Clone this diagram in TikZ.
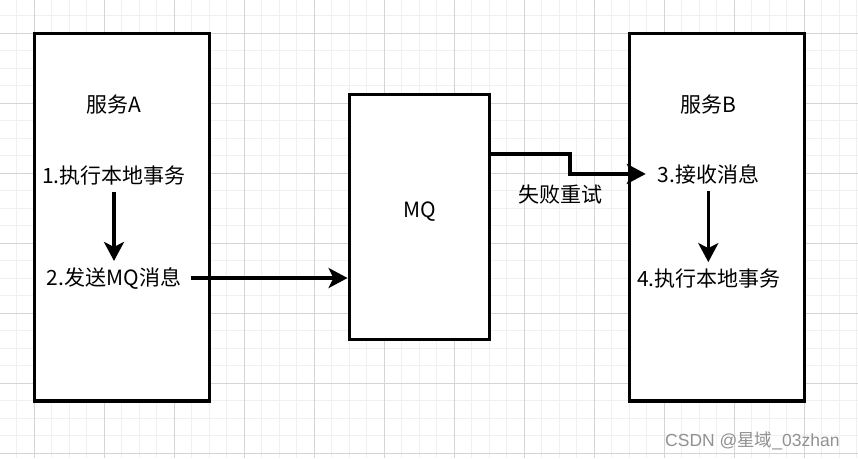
\documentclass[tikz,border=0pt]{standalone}
\usepackage{fontspec}
\setmainfont{Noto Sans CJK SC}
\newfontfamily\wmlat{Liberation Sans}
\usetikzlibrary{arrows.meta}
\definecolor{gminor}{RGB}{240,240,240}
\definecolor{gmajor}{RGB}{212,212,212}
\definecolor{wm}{RGB}{145,145,145}
\begin{document}
\begin{tikzpicture}[x=1pt,y=-1pt,
  box/.style={draw=black,fill=white,line width=3.5pt,rectangle,inner sep=0pt},
  lbl/.style={font=\fontsize{21}{25}\selectfont,inner sep=0pt,anchor=base},
  arr/.style={line width=3.5pt,-{Stealth[length=19pt,width=20pt,inset=5pt]}}]
\useasboundingbox (0,0) rectangle (858,458);
\fill[white] (0,0) rectangle (858,458);
% grid
\foreach \i in {-1,...,47} \draw[gminor,line width=1pt] ({34.3+17.5*\i},0) -- ++(0,458);
\foreach \i in {-1,...,24} \draw[gminor,line width=1pt] (0,{33.3+17.5*\i}) -- ++(858,0);
\foreach \i in {0,...,11} \draw[gmajor,line width=1pt] ({34.3+70*\i},0) -- ++(0,458);
\foreach \i in {0,...,6} \draw[gmajor,line width=1pt] (0,{33.3+70*\i}) -- ++(858,0);
% boxes
\node[box,minimum width=175pt,minimum height=367.5pt] (A) at (121.8,217.05) {};
\node[box,minimum width=140pt,minimum height=245pt] (MQ) at (419.3,217.1) {};
\node[box,minimum width=175pt,minimum height=367.5pt] (B) at (716.8,217.05) {};
% labels
\node[lbl] (an) at (113.5,112.5) {服务A};
\node[lbl] (a1) at (114,183) {1.执行本地事务};
\node[lbl] (a2) at (114,285) {2.发送MQ消息};
\node[lbl] (mqt) at (420,217) {MQ};
\node[lbl] (bn) at (708.8,112.5) {服务B};
\node[lbl] (b1) at (708.3,182) {3.接收消息};
\node[lbl] (b2) at (709,286) {4.执行本地事务};
\node[lbl] (ft) at (560,202) {失败重试};
\node[font=\fontsize{17.5}{20}\selectfont,text=wm,anchor=base west,inner sep=0pt] (wmk) at (665,446) {{\wmlat CSDN @}星域{\wmlat \_03zhan}};
% connectors
\draw[arr,shorten <=7pt,shorten >=6pt] (a1.south) -- (a1.south |- a2.north);
\draw[arr,shorten <=7pt,shorten >=6pt] (b1.south) -- (b1.south |- b2.north);
\draw[arr] ([xshift=10pt]a2.east) -- (a2.east -| MQ.west);
\draw[arr,shorten >=11.6pt] ([yshift=-61.2pt]MQ.north east) -- ++(79,0) |- (b1.west);
\end{tikzpicture}
\end{document}
